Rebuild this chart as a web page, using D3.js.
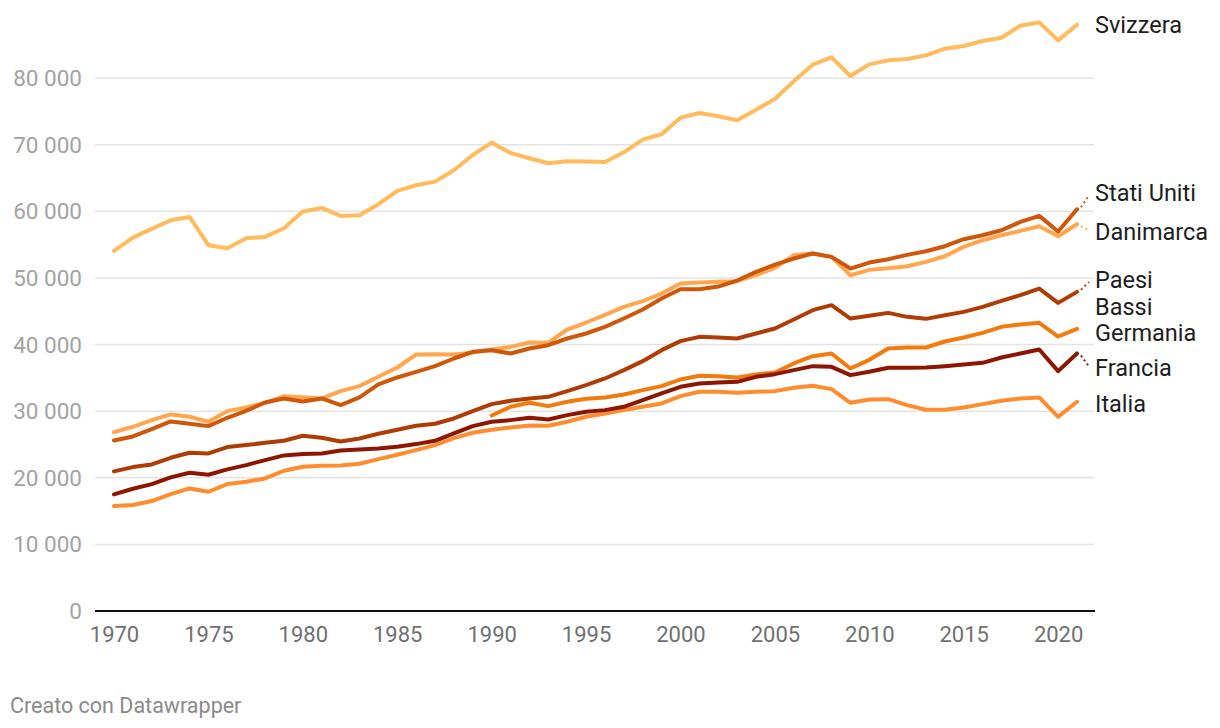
<!DOCTYPE html>
<html>
<head>
<meta charset="utf-8">
<script src="https://cdn.jsdelivr.net/npm/d3@7"></script>
<style>
  body { margin: 0; background: #fff; }
  svg { display: block; font-family: Roboto, "Noto Sans", sans-serif; }
</style>
</head>
<body>
<svg id="chart" width="1220" height="728"></svg>
<script>
// years 1970-2021
const years = [1970, 1971, 1972, 1973, 1974, 1975, 1976, 1977, 1978, 1979,
  1980, 1981, 1982, 1983, 1984, 1985, 1986, 1987, 1988, 1989,
  1990, 1991, 1992, 1993, 1994, 1995, 1996, 1997, 1998, 1999,
  2000, 2001, 2002, 2003, 2004, 2005, 2006, 2007, 2008, 2009,
  2010, 2011, 2012, 2013, 2014, 2015, 2016, 2017, 2018, 2019,
  2020, 2021];

const svizzera = [54050, 56050, 57350, 58650, 59150, 54900, 54450, 55950, 56150, 57450,
  59950, 60500, 59300, 59400, 61050, 63050, 63900, 64450, 66150, 68450,
  70300, 68750, 67950, 67200, 67500, 67450, 67400, 68850, 70750, 71550,
  74050, 74750, 74250, 73650, 75250, 76850, 79500, 82000, 83100, 80300,
  82050, 82650, 82850, 83400, 84400, 84800, 85550, 86050, 87850, 88350,
  85650, 88000];

const statiUniti = [25600, 26200, 27300, 28450, 28100, 27750, 29000, 30050, 31300, 31900,
  31450, 31900, 30900, 32050, 34000, 35050, 35900, 36750, 37900, 38900,
  39150, 38650, 39400, 39900, 40900, 41650, 42650, 43900, 45250, 46900,
  48300, 48300, 48700, 49600, 50900, 52000, 52900, 53650, 53150, 51400,
  52300, 52800, 53450, 54000, 54750, 55800, 56400, 57150, 58400, 59300,
  56950, 60300];

const danimarca = [26850, 27650, 28650, 29500, 29150, 28400, 30000, 30550, 31250, 32250,
  32100, 31900, 33000, 33750, 35150, 36550, 38500, 38550, 38500, 38800,
  39250, 39650, 40300, 40250, 42250, 43300, 44450, 45650, 46500, 47650,
  49150, 49300, 49400, 49500, 50400, 51500, 53400, 53650, 53150, 50400,
  51200, 51450, 51750, 52400, 53250, 54650, 55650, 56400, 57050, 57750,
  56250, 58050];

const paesiBassi = [20950, 21600, 22000, 23000, 23750, 23650, 24600, 24900, 25250, 25550,
  26300, 26000, 25450, 25900, 26600, 27200, 27800, 28100, 28900, 30000,
  31050, 31550, 31900, 32150, 33000, 33900, 34900, 36150, 37500, 39150,
  40500, 41150, 41050, 40900, 41650, 42400, 43750, 45150, 45900, 43900,
  44300, 44750, 44150, 43850, 44400, 44900, 45650, 46550, 47400, 48400,
  46250, 47900];

const germania = [null, null, null, null, null, null, null, null, null, null,
  null, null, null, null, null, null, null, null, null, null,
  29350, 30650, 31250, 30750, 31400, 31850, 32050, 32500, 33150, 33750,
  34750, 35300, 35250, 35050, 35500, 35800, 37150, 38250, 38650, 36400,
  37700, 39400, 39550, 39550, 40450, 41050, 41750, 42650, 43000, 43250,
  41200, 42350];

const francia = [17500, 18350, 19050, 20050, 20750, 20450, 21250, 21900, 22650, 23350,
  23550, 23650, 24100, 24250, 24400, 24650, 25050, 25550, 26650, 27750,
  28400, 28650, 29000, 28750, 29400, 29900, 30150, 30650, 31650, 32650,
  33650, 34150, 34300, 34400, 35150, 35550, 36150, 36750, 36650, 35400,
  35900, 36500, 36500, 36550, 36750, 37000, 37250, 38050, 38650, 39250,
  36000, 38650];

const italia = [15750, 15900, 16500, 17550, 18400, 17900, 19050, 19400, 19900, 21050,
  21650, 21800, 21850, 22100, 22800, 23450, 24150, 24900, 25950, 26750,
  27200, 27550, 27850, 27800, 28400, 29150, 29650, 30150, 30650, 31150,
  32250, 32900, 32900, 32750, 32900, 33000, 33500, 33800, 33300, 31250,
  31750, 31800, 30900, 30200, 30200, 30550, 31050, 31550, 31900, 32050,
  29150, 31400];

const xTicks = [1970, 1975, 1980, 1985, 1990, 1995, 2000, 2005, 2010, 2015, 2020];
const yTicks = [0, 10000, 20000, 30000, 40000, 50000, 60000, 70000, 80000];

const series = [
  { name: ["Svizzera"], values: svizzera, color: "#ffbb5c", dy: 0 },
  { name: ["Danimarca"], values: danimarca, color: "#ffa64f", dy: 8 },
  { name: ["Stati Uniti"], values: statiUniti, color: "#cf5709", dy: -16 },
  { name: ["Paesi", "Bassi"], values: paesiBassi, color: "#b03c05", dy: -12 },
  { name: ["Germania"], values: germania, color: "#f27b0c", dy: 4 },
  { name: ["Italia"], values: italia, color: "#ff8d2e", dy: 2 },
  { name: ["Francia"], values: francia, color: "#8e1600", dy: 15 }
];

const svg = d3.select("#chart");

const x = d3.scaleLinear().domain([1970, 2021]).range([114, 1077]);
const y = d3.scaleLinear().domain([0, 80000]).range([611, 78]);

const fmt = d3.formatLocale({ decimal: ",", thousands: " ", grouping: [3], currency: ["", ""] }).format(",d");

// grid
const grid = svg.append("g");
grid.selectAll("line")
  .data(yTicks.filter(d => d > 0))
  .enter().append("line")
  .attr("x1", 95).attr("x2", 1094)
  .attr("y1", d => y(d)).attr("y2", d => y(d))
  .attr("stroke", "#e3e3e3").attr("stroke-width", 1.5);

// y labels
svg.append("g").selectAll("text")
  .data(yTicks)
  .enter().append("text")
  .attr("x", 82).attr("y", d => y(d))
  .attr("text-anchor", "end")
  .attr("dominant-baseline", "central")
  .attr("fill", "#a3a3a3")
  .style("font-size", "22.5px")
  .text(d => fmt(d));

// x axis
const xAxis = svg.append("g")
  .attr("transform", `translate(0,${y(0)})`)
  .call(d3.axisBottom(x).tickValues(xTicks).tickFormat(d3.format("d")).tickSize(0).tickPadding(15));
xAxis.select(".domain").remove();
xAxis.selectAll("text")
  .attr("fill", "#707070")
  .style("font-size", "22px")
  .style("font-family", "Roboto, sans-serif");

svg.append("line")
  .attr("x1", 95).attr("x2", 1095)
  .attr("y1", y(0)).attr("y2", y(0))
  .attr("stroke", "#111").attr("stroke-width", 2);

// lines
const line = d3.line()
  .defined(d => d != null)
  .x((d, i) => x(years[i]))
  .y(d => y(d));

svg.append("g").selectAll("path")
  .data(series)
  .enter().append("path")
  .attr("d", d => line(d.values))
  .attr("fill", "none")
  .attr("stroke", d => d.color)
  .attr("stroke-width", 4)
  .attr("stroke-linejoin", "round")
  .attr("stroke-linecap", "round");

// labels
const lastYear = years[years.length - 1];
const labels = svg.append("g");
series.forEach(s => {
  const last = s.values[s.values.length - 1];
  const y0 = y(last);
  const ly = y0 + s.dy;
  if (Math.abs(s.dy) > 6) {
    labels.append("line")
      .attr("x1", x(lastYear) + 4).attr("y1", y0 + (s.dy > 0 ? 2 : -2))
      .attr("x2", x(lastYear) + 12).attr("y2", ly + (s.dy > 0 ? -2 : 2))
      .attr("stroke", s.color).attr("stroke-width", 2)
      .attr("stroke-dasharray", "2,3");
  }
  s.name.forEach((n, k) => {
    labels.append("text")
      .attr("x", 1095).attr("y", ly + k * 27)
      .attr("dominant-baseline", "central")
      .attr("fill", "#1d1d1d")
      .style("font-size", "23.5px")
      .text(n);
  });
});

// footer
svg.append("text")
  .attr("x", 10).attr("y", 705)
  .attr("dominant-baseline", "central")
  .attr("fill", "#8a8a8a")
  .style("font-size", "21.5px")
  .text("Creato con Datawrapper");
</script>
</body>
</html>
